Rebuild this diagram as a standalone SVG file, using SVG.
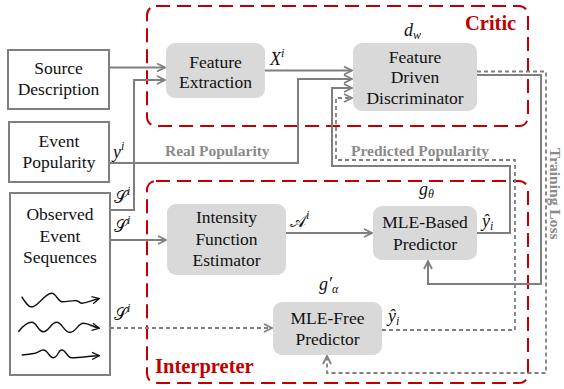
<svg xmlns="http://www.w3.org/2000/svg" width="564" height="389" viewBox="0 0 564 389">
<defs>
<style>
.box{fill:#fff;stroke:#7f7f7f;stroke-width:2}
.node{fill:#d9d9d9;stroke:none}
.t{font-family:"Liberation Serif","Times New Roman",serif;font-size:17.5px;fill:#111;text-anchor:middle}
.m{font-family:"Liberation Serif",serif;font-style:italic;font-size:18px;fill:#111}
.s{font-family:"Liberation Serif","DejaVu Serif",serif;font-style:normal;font-size:17px;fill:#111}
.sup{font-size:12px;font-style:italic}
.lbl{font-family:"Liberation Serif",serif;font-weight:bold;font-size:15.5px;fill:#8a8a8a}
.grp{fill:none;stroke:#c00000;stroke-width:2;stroke-dasharray:14 7}
.gt{font-family:"Liberation Serif",serif;font-weight:bold;font-size:20.5px;fill:#c00000}
.c{fill:none;stroke:#7f7f7f;stroke-width:2}
.d{fill:none;stroke:#7f7f7f;stroke-width:1.8;stroke-dasharray:4 3}
.sq{fill:none;stroke:#111;stroke-width:1.4}
</style>
<marker id="ah" viewBox="0 0 10 10" refX="9" refY="5" markerWidth="10" markerHeight="10" markerUnits="userSpaceOnUse" orient="auto">
<path d="M1,1 L9,5 L1,9" fill="none" stroke="#7f7f7f" stroke-width="1.8"/>
</marker>
<marker id="sa" viewBox="0 0 10 10" refX="9" refY="5" markerWidth="9" markerHeight="9" markerUnits="userSpaceOnUse" orient="auto">
<path d="M1,1 L9,5 L1,9" fill="none" stroke="#111" stroke-width="1.4"/>
</marker>
</defs>

<g id="critic">
<rect class="grp" x="147" y="6" width="381" height="120" rx="9"/>
<text class="gt" x="465" y="30">Critic</text>
</g>
<g id="interpreter">
<rect class="grp" x="147" y="181" width="381" height="202" rx="9"/>
<text class="gt" x="155" y="373">Interpreter</text>
</g>

<g id="connectors">
<path class="c" d="M109,67.5 H165" marker-end="url(#ah)"/>
<path class="c" d="M110,210 H134 V80 H165" marker-end="url(#ah)"/>
<path class="c" d="M265,70.5 H352" marker-end="url(#ah)"/>
<path class="c" d="M109,163 H298 V79 H352" marker-end="url(#ah)"/>
<path class="c" d="M477,233 H510 V166 H332 V88 H352" marker-end="url(#ah)"/>
<path class="d" d="M382,330 H515 V160 H336 V98 H352" marker-end="url(#ah)"/>
<path class="c" d="M477,75 H541 V284 H428 V261" marker-end="url(#ah)"/>
<path class="d" d="M477,71.5 H546 V373 H327 V356" marker-end="url(#ah)"/>
<path class="c" d="M110,240 H166" marker-end="url(#ah)"/>
<path class="c" d="M286,233 H372" marker-end="url(#ah)"/>
<path class="d" d="M110,328 H272" marker-end="url(#ah)"/>
<text class="lbl" x="165" y="156">Real Popularity</text>
<text class="lbl" x="351" y="156">Predicted Popularity</text>
<text class="lbl" transform="translate(550,148) rotate(90)">Training Loss</text>
<text class="m" x="270" y="65">X<tspan class="sup" dy="-8">i</tspan></text>
<text class="m" x="113" y="158">y<tspan class="sup" dy="-8">i</tspan></text>
<text class="s" x="114" y="203">𝒮<tspan class="sup" dy="-8">i</tspan></text>
<text class="s" x="114" y="232">𝒮<tspan class="sup" dy="-8">i</tspan></text>
<text class="s" x="114" y="320">𝒮<tspan class="sup" dy="-8">i</tspan></text>
<text class="s" x="290" y="227">𝒜<tspan class="sup" dy="-8">i</tspan></text>
<text class="m" x="482" y="227">ŷ<tspan class="sup" dy="3">i</tspan></text>
<text class="m" x="388" y="322">ŷ<tspan class="sup" dy="3">i</tspan></text>
</g>

<g id="source">
<rect class="box" x="8" y="50" width="101" height="59"/>
<text class="t" x="58.5" y="74">Source</text>
<text class="t" x="58.5" y="95">Description</text>
</g>
<g id="popularity">
<rect class="box" x="9" y="122" width="100" height="60"/>
<text class="t" x="59" y="147">Event</text>
<text class="t" x="59" y="168">Popularity</text>
</g>
<g id="sequences">
<rect class="box" x="10" y="193" width="100" height="182"/>
<text class="t" x="60" y="220">Observed</text>
<text class="t" x="60" y="242">Event</text>
<text class="t" x="60" y="263">Sequences</text>
<path class="sq" d="M21.7,296.7 C25,302 28,307 31.7,307 C38,307 45,293 51.7,293.3 C56,293.5 58,301 61.7,301.7 C67,302 72,300 76.7,300.7 C79,301 80,303.5 82,303.3 C88,302.5 93,300 99.3,298.5" marker-end="url(#sa)"/>
<path class="sq" d="M18.3,331.7 C23,326 27,322.3 31.7,322.3 C37,322.3 38,331.7 43.3,331.7 C49,331.7 51,322.3 56.7,322.3 C62,322.3 64,332.3 70,332.3 C76,332.3 78,323.3 83.3,323.3 C89,323.3 93,327 99.3,328.3" marker-end="url(#sa)"/>
<path class="sq" d="M21.7,355 C27,354.5 31,354 35,353.3 C39,352.5 40,350 43.3,350 C48,350 49,357.7 53.3,357.7 C58,357.7 58,350 61.7,350 C66,350 67,357.7 71.7,357.7 C80,357.7 90,356 99.3,355.7" marker-end="url(#sa)"/>
</g>
<g id="feature-extraction">
<rect class="node" x="166" y="43" width="99" height="55" rx="9"/>
<text class="t" x="215.5" y="68">Feature</text>
<text class="t" x="215.5" y="88">Extraction</text>
</g>
<g id="discriminator">
<rect class="node" x="353" y="43" width="124" height="68" rx="9"/>
<text class="t" x="415" y="63">Feature</text>
<text class="t" x="415" y="83">Driven</text>
<text class="t" x="415" y="104">Discriminator</text>
<text class="m" x="404" y="36">d<tspan class="sup" dy="3">w</tspan></text>
</g>
<g id="intensity">
<rect class="node" x="167" y="204" width="119" height="71" rx="9"/>
<text class="t" x="226.5" y="223">Intensity</text>
<text class="t" x="226.5" y="245">Function</text>
<text class="t" x="226.5" y="266">Estimator</text>
</g>
<g id="mle-based">
<rect class="node" x="373" y="206" width="104" height="54" rx="9"/>
<text class="t" x="425" y="228">MLE-Based</text>
<text class="t" x="425" y="250">Predictor</text>
<text class="m" x="419" y="195">g<tspan class="sup" dy="3">θ</tspan></text>
</g>
<g id="mle-free">
<rect class="node" x="273" y="302" width="109" height="53" rx="9"/>
<text class="t" x="327.5" y="324">MLE-Free</text>
<text class="t" x="327.5" y="345">Predictor</text>
<text class="m" x="319" y="290">g′<tspan class="sup" dy="3">α</tspan></text>
</g>
</svg>
